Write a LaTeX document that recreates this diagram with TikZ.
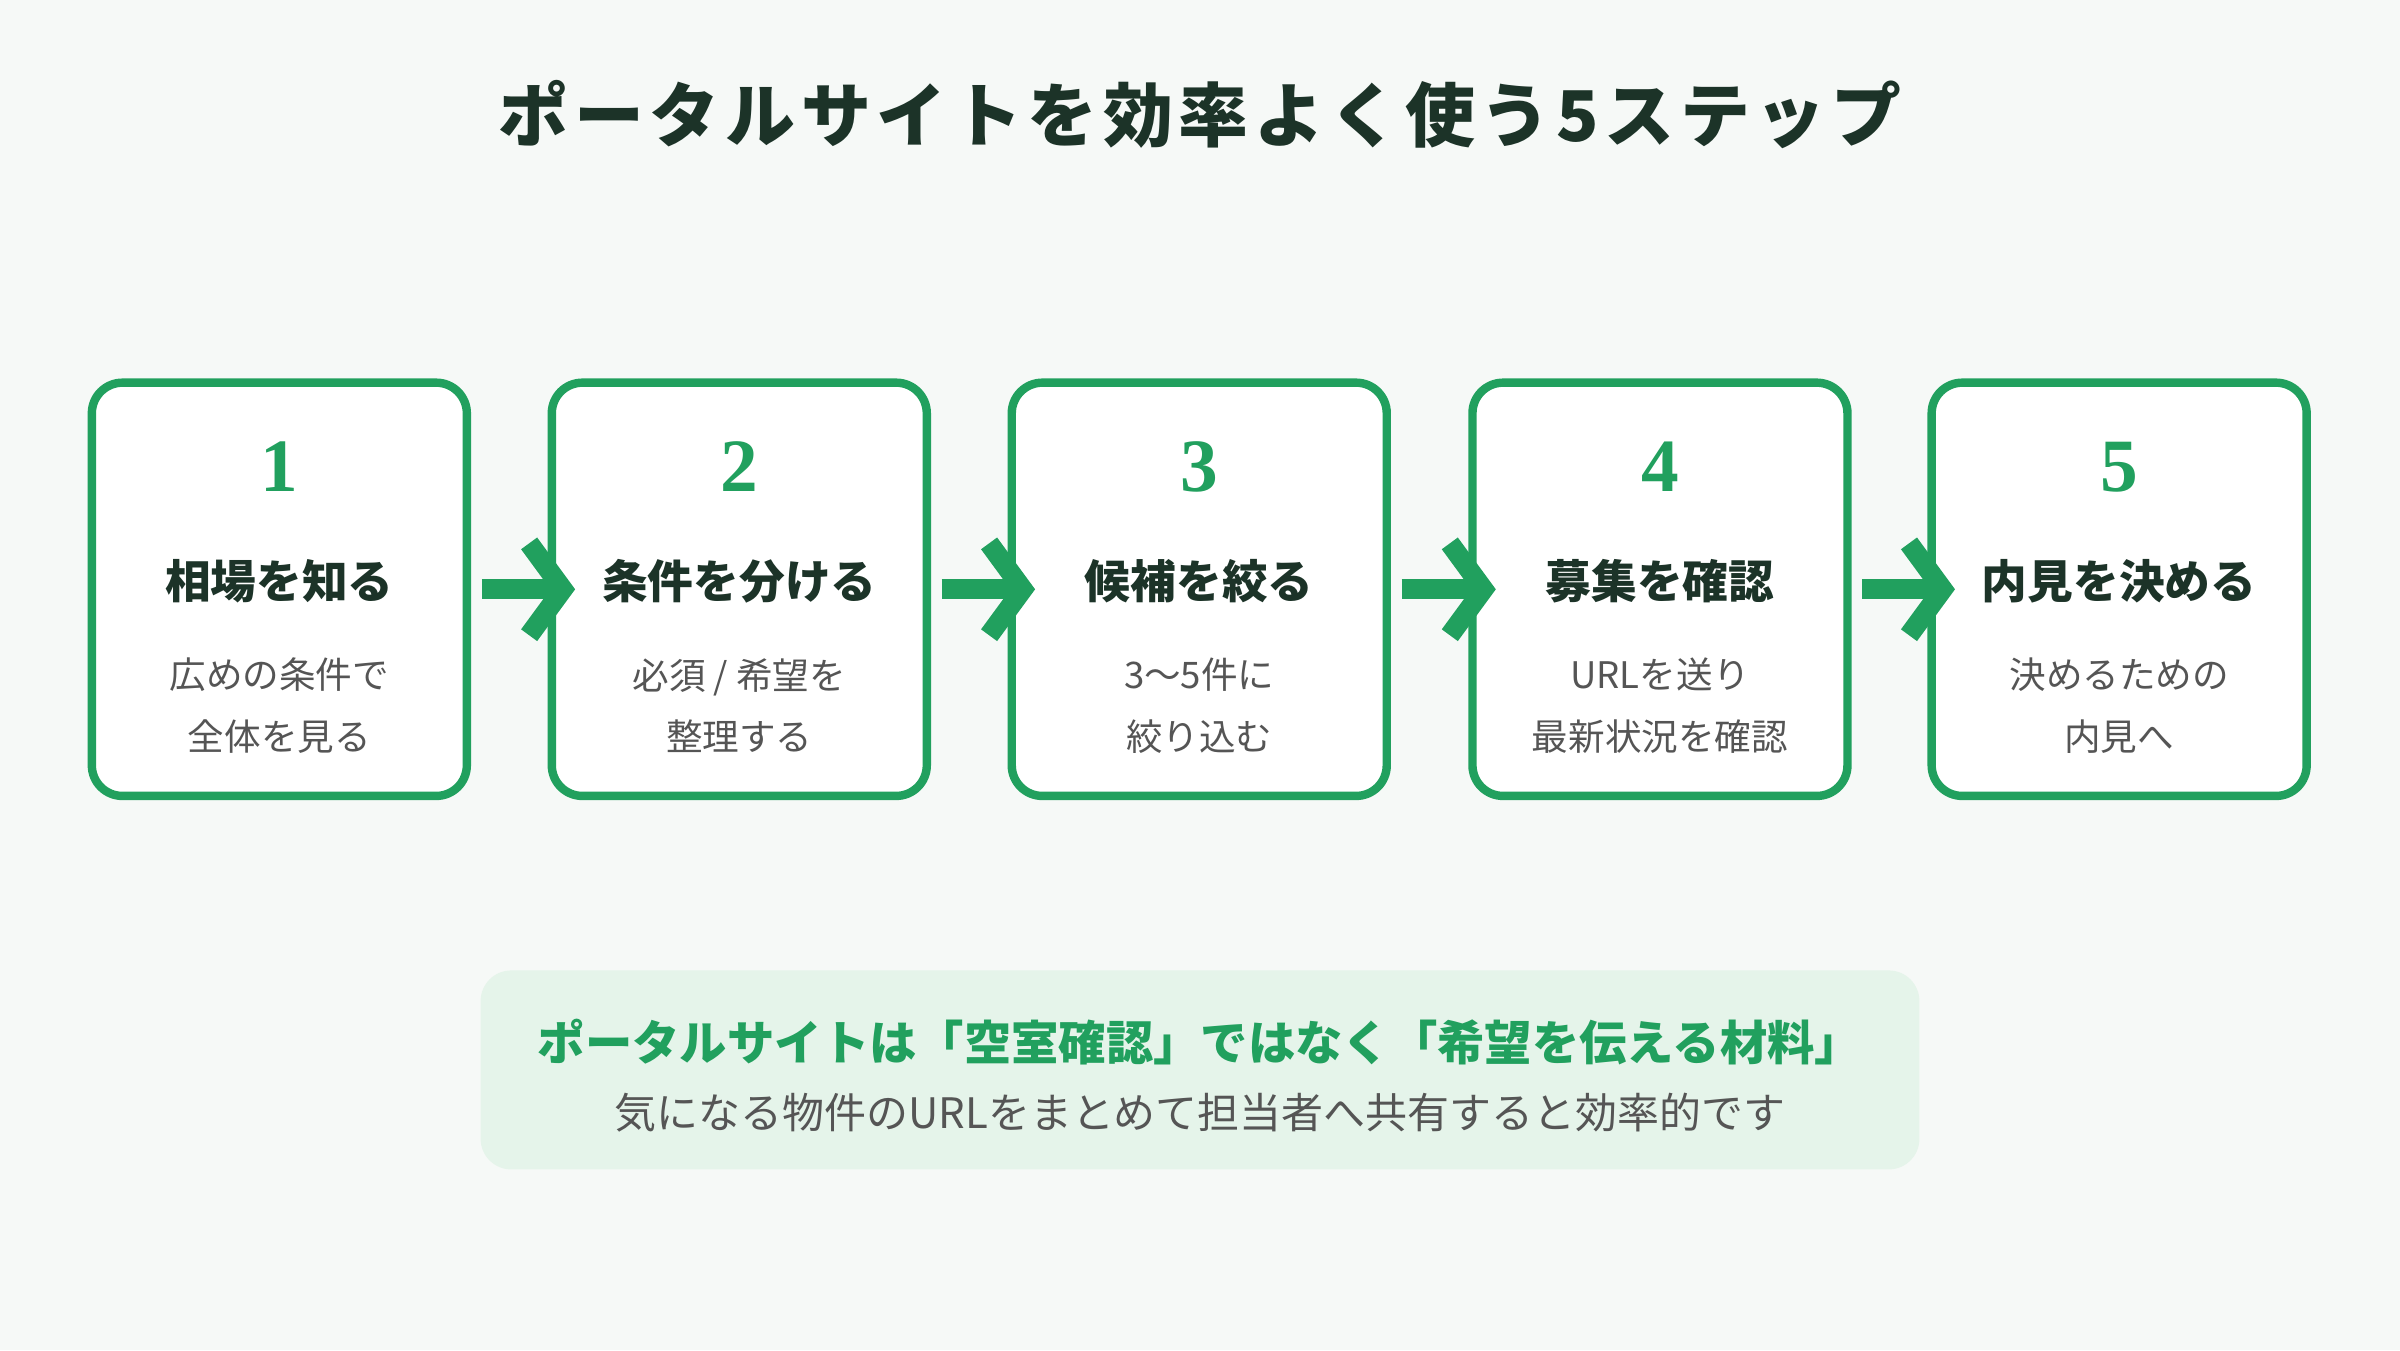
\documentclass[tikz,border=0pt]{standalone}
\usepackage{fontspec}
\setmainfont{Noto Sans CJK JP}
\newfontfamily\numfont{Liberation Serif}
\newfontfamily\widefont[LetterSpace=8]{Noto Sans CJK JP}
\usetikzlibrary{arrows.meta, positioning}
\definecolor{bgcol}{HTML}{F6F9F7}
\definecolor{stepgreen}{HTML}{21A05E}
\definecolor{darktext}{HTML}{1C3328}
\definecolor{greytext}{HTML}{555555}
\definecolor{notefill}{HTML}{E5F4EA}
\tikzset{
    stepbox/.style={
        rectangle,
        draw=stepgreen,
        line width=0.055cm,
        rounded corners=0.2cm,
        minimum width=2.45cm,
        minimum height=2.7cm,
        fill=white
    },
    stepnum/.style={
        font=\numfont\bfseries\fontsize{14}{14}\selectfont,
        text=stepgreen
    },
    steptitle/.style={
        font=\bfseries\fontsize{8.5}{10}\selectfont,
        text=darktext
    },
    stepdesc/.style={
        font=\fontsize{6.8}{11.5}\selectfont,
        text=greytext,
        align=center
    },
    flow/.style={
        draw=stepgreen,
        line width=0.13cm,
        -{Straight Barb[length=0.22cm,width=0.6cm]}
    }
}
\begin{document}
\begin{tikzpicture}
\fill[bgcol] (0,0) rectangle (15.68,8.82);
\useasboundingbox (0,0) rectangle (15.68,8.82);

% Title
\node[font=\widefont\bfseries\fontsize{13}{13}\selectfont, text=darktext] (title) at (7.84,8.07) {ポータルサイトを効率よく使う5ステップ};

% Steps
\foreach \i/\x/\name/\lineA/\lineB in {
    1/1.825/相場を知る/広めの条件で/全体を見る,
    2/4.83/条件を分ける/{必須 / 希望を}/整理する,
    3/7.835/候補を絞る/3〜5件に/絞り込む,
    4/10.845/募集を確認/URLを送り/最新状況を確認,
    5/13.845/内見を決める/決めるための/内見へ}{
    \node[stepbox] (box\i) at (\x,4.97) {};
    \node[stepnum] (num\i) at (\x,5.77) {\i};
    \node[steptitle] (head\i) at (\x,5.02) {\name};
    \node[stepdesc] (desc\i) at (\x,4.21) {\lineA\\\lineB};
}

% Arrows
\foreach \a/\b in {1/2, 2/3, 3/4, 4/5}{
    \draw[flow] ([xshift=0.07cm]box\a.east) -- ([xshift=0.18cm]box\b.west);
}

% Note
\node[rectangle, fill=notefill, rounded corners=0.2cm, minimum width=9.4cm, minimum height=1.3cm] (note) at (7.84,1.83) {};
\node[font=\bfseries\fontsize{8.8}{10}\selectfont, text=stepgreen] (notehead) at (7.84,2.01) {ポータルサイトは「空室確認」ではなく「希望を伝える材料」};
\node[font=\fontsize{7.8}{9}\selectfont, text=greytext] (notebody) at (7.84,1.55) {気になる物件のURLをまとめて担当者へ共有すると効率的です};

\end{tikzpicture}
\end{document}
